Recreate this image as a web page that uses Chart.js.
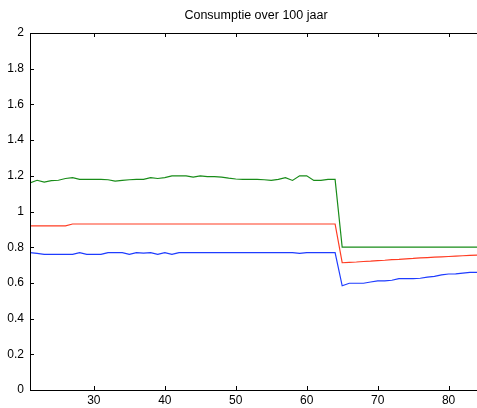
<!DOCTYPE html>
<html>
<head>
<meta charset="utf-8">
<script src="https://cdn.jsdelivr.net/npm/chart.js@4/dist/chart.umd.min.js"></script>
<style>
  html, body { margin: 0; padding: 0; background: #fff; }
  #wrap { width: 477px; height: 408px; }
</style>
</head>
<body>
<div id="wrap"><canvas id="chart"></canvas></div>
<script>
// jaren (x-as)
const years = [21, 22, 23, 24, 25, 26, 27, 28, 29, 30, 31, 32, 33, 34, 35, 36, 37, 38, 39, 40,
  41, 42, 43, 44, 45, 46, 47, 48, 49, 50, 51, 52, 53, 54, 55, 56, 57, 58, 59, 60,
  61, 62, 63, 64, 65, 66, 67, 68, 69, 70, 71, 72, 73, 74, 75, 76, 77, 78, 79, 80,
  81, 82, 83, 84];

const greenSeries = [1.16, 1.175, 1.165, 1.173, 1.175, 1.185, 1.19, 1.18, 1.18, 1.18,
  1.18, 1.178, 1.17, 1.174, 1.178, 1.18, 1.18, 1.19, 1.185, 1.19,
  1.2, 1.2, 1.2, 1.193, 1.2, 1.195, 1.195, 1.193, 1.187, 1.182,
  1.18, 1.18, 1.18, 1.178, 1.174, 1.18, 1.19, 1.174, 1.2, 1.2,
  1.174, 1.174, 1.18, 1.18,
  0.8, 0.8, 0.8, 0.8, 0.8, 0.8, 0.8, 0.8, 0.8, 0.8,
  0.8, 0.8, 0.8, 0.8, 0.8, 0.8, 0.8, 0.8, 0.8, 0.8];

const redSeries = [0.92, 0.92, 0.92, 0.92, 0.92, 0.92, 0.93, 0.93, 0.93, 0.93,
  0.93, 0.93, 0.93, 0.93, 0.93, 0.93, 0.93, 0.93, 0.93, 0.93,
  0.93, 0.93, 0.93, 0.93, 0.93, 0.93, 0.93, 0.93, 0.93, 0.93,
  0.93, 0.93, 0.93, 0.93, 0.93, 0.93, 0.93, 0.93, 0.93, 0.93,
  0.93, 0.93, 0.93, 0.93,
  0.713, 0.715, 0.717, 0.72, 0.722, 0.725, 0.727, 0.73, 0.732, 0.735,
  0.737, 0.74, 0.742, 0.744, 0.746, 0.748, 0.75, 0.752, 0.754, 0.756];

const blueSeries = [0.77, 0.765, 0.76, 0.76, 0.76, 0.76, 0.76, 0.77, 0.76, 0.76,
  0.76, 0.77, 0.77, 0.77, 0.76, 0.77, 0.767, 0.77, 0.76, 0.77,
  0.76, 0.77, 0.77, 0.77, 0.77, 0.77, 0.77, 0.77, 0.77, 0.77,
  0.77, 0.77, 0.77, 0.77, 0.77, 0.77, 0.77, 0.77, 0.765, 0.77,
  0.77, 0.77, 0.77, 0.77,
  0.584, 0.598, 0.598, 0.598, 0.605, 0.611, 0.611, 0.615, 0.624, 0.624,
  0.624, 0.626, 0.632, 0.637, 0.645, 0.65, 0.651, 0.655, 0.659, 0.659];

const xTicks = [30, 40, 50, 60, 70, 80];
const yTicks = [0, 0.2, 0.4, 0.6, 0.8, 1, 1.2, 1.4, 1.6, 1.8, 2];
const chartTitle = 'Consumptie over 100 jaar';

const FONT = 'Liberation Sans, Arial, Helvetica, sans-serif';

function toPoints(values) {
  return values.map((v, i) => ({ x: years[i], y: v }));
}

// kader (links, boven, onder) + naar binnen wijzende streepjes en de titel
const boxPlugin = {
  id: 'box',
  afterDraw(chart) {
    const ctx = chart.ctx;
    const a = chart.chartArea;
    const xs = chart.scales.x;
    const ys = chart.scales.y;
    ctx.save();
    ctx.strokeStyle = '#000';
    ctx.lineWidth = 1;
    ctx.beginPath();
    ctx.moveTo(chart.width, a.top + 0.5);
    ctx.lineTo(a.left + 0.5, a.top + 0.5);
    ctx.lineTo(a.left + 0.5, a.bottom + 0.5);
    ctx.lineTo(chart.width, a.bottom + 0.5);
    ctx.stroke();

    const len = 4;
    ctx.beginPath();
    xTicks.forEach(v => {
      const px = Math.round(xs.getPixelForValue(v)) + 0.5;
      ctx.moveTo(px, a.bottom);
      ctx.lineTo(px, a.bottom - len);
      ctx.moveTo(px, a.top);
      ctx.lineTo(px, a.top + len);
    });
    yTicks.forEach(v => {
      const py = Math.round(ys.getPixelForValue(v)) + 0.5;
      ctx.moveTo(a.left, py);
      ctx.lineTo(a.left + len, py);
    });
    ctx.stroke();

    ctx.fillStyle = '#000';
    ctx.font = '12.5px ' + FONT;
    ctx.textAlign = 'center';
    ctx.textBaseline = 'middle';
    ctx.fillText(chartTitle, 256, 16);
    ctx.restore();
  }
};

function initChart() {
  const ctx = document.getElementById('chart').getContext('2d');

  new Chart(ctx, {
    type: 'line',
    data: {
      datasets: [
        {
          label: 'groen',
          data: toPoints(greenSeries),
          borderColor: 'rgb(25, 140, 25)',
          borderWidth: 1.2,
          pointRadius: 0,
          tension: 0
        },
        {
          label: 'rood',
          data: toPoints(redSeries),
          borderColor: 'rgb(255, 60, 35)',
          borderWidth: 1.2,
          pointRadius: 0,
          tension: 0
        },
        {
          label: 'blauw',
          data: toPoints(blueSeries),
          borderColor: 'rgb(30, 60, 255)',
          borderWidth: 1.2,
          pointRadius: 0,
          tension: 0
        }
      ]
    },
    options: {
      responsive: true,
      maintainAspectRatio: false,
      animation: false,
      layout: {
        padding: { top: 33, right: 0, left: 0, bottom: 0 }
      },
      scales: {
        x: {
          type: 'linear',
          min: 21,
          max: 84,
          afterBuildTicks: scale => { scale.ticks = xTicks.map(v => ({ value: v })); },
          afterFit: scale => { scale.height = 18; },
          grid: { display: false, drawTicks: false },
          border: { display: false },
          ticks: {
            color: '#000',
            padding: 3,
            maxRotation: 0,
            autoSkip: false,
            font: { family: FONT, size: 12 }
          }
        },
        y: {
          min: 0,
          max: 2,
          afterBuildTicks: scale => { scale.ticks = yTicks.map(v => ({ value: v })); },
          afterFit: scale => { scale.width = 30; },
          grid: { display: false, drawTicks: false },
          border: { display: false },
          ticks: {
            color: '#000',
            padding: 6,
            autoSkip: false,
            font: { family: FONT, size: 12 },
            callback: value => String(Number(value.toFixed(1)))
          }
        }
      },
      plugins: {
        legend: { display: false },
        title: { display: false },
        tooltip: { enabled: false }
      }
    },
    plugins: [boxPlugin]
  });
}

document.addEventListener('DOMContentLoaded', initChart);
</script>
</body>
</html>
